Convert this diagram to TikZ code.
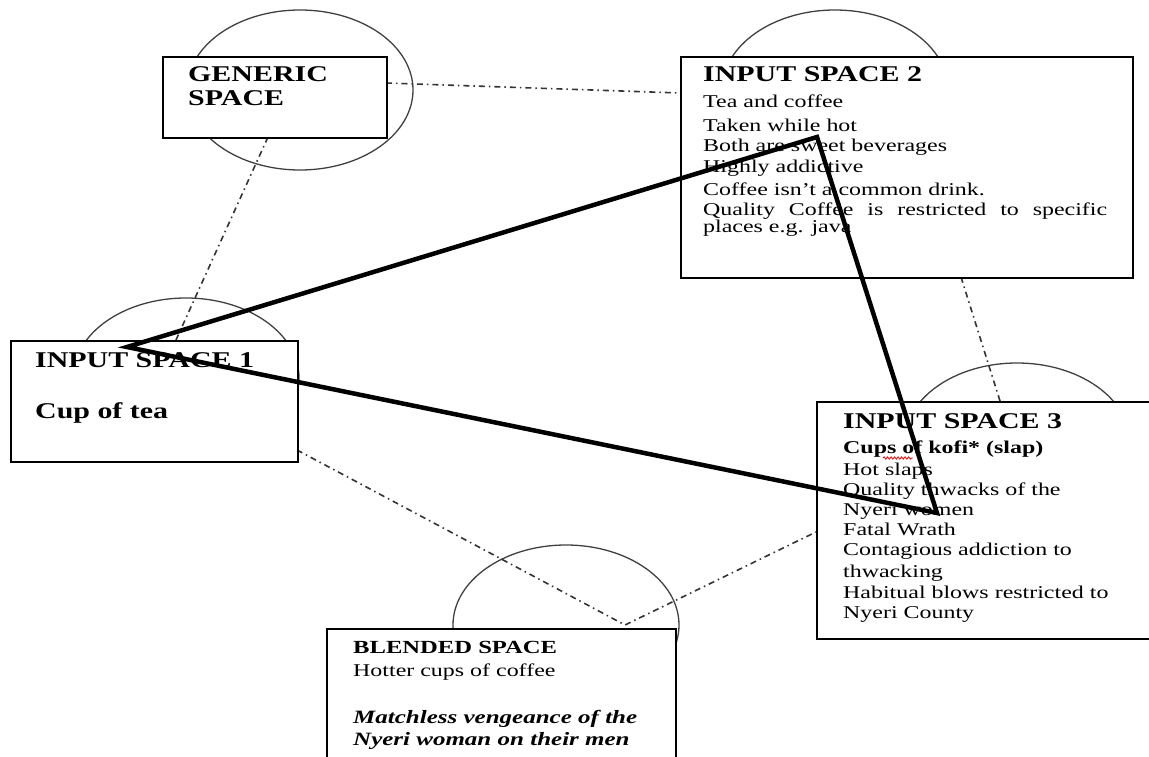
\documentclass[tikz,border=0pt]{standalone}
\usepackage{fontspec}
\setmainfont{Liberation Serif}[FakeStretch=1.33]
\usetikzlibrary{shapes.geometric,decorations.pathmorphing}

\begin{document}
\begin{tikzpicture}[x=1pt,y=-1pt,
  spacebox/.style={draw=black, line width=1.8pt, fill=white, inner sep=0pt,
                   anchor=north west},
  halo/.style={ellipse, draw=black!75, line width=1.3pt, inner sep=0pt,
               minimum width=226pt, minimum height=160pt},
  maplink/.style={draw=black!80, line width=1.6pt,
                  dash pattern=on 6pt off 4pt on 1.5pt off 4pt},
  tie/.style={draw=black, line width=4.5pt, line join=miter},
  head/.style={font=\fontsize{22.5}{26}\selectfont\bfseries, anchor=base west,
               inner sep=0pt},
  subhead/.style={font=\fontsize{18.5}{21}\selectfont\bfseries, anchor=base west,
               inner sep=0pt},
  body/.style={font=\fontsize{18}{21}\selectfont, anchor=base west, inner sep=0pt},
  bodybold/.style={body, font=\fontsize{18}{21}\selectfont\bfseries},
  bodyit/.style={body, font=\fontsize{18.8}{21}\selectfont\bfseries\itshape},
]
\useasboundingbox (0,0) rectangle (1149,757);

% circles behind the mental spaces
\node[halo] (gring)  at (300,90)  {};
\node[halo] (ring2)  at (835,90)  {};
\node[halo] (ring1)  at (186,378) {};
\node[halo] (ring3)  at (1017,443) {};
\node[halo] (bring)  at (566,625) {};

% end points of the dash-dot mappings
\coordinate (g-east)   at (386,83);
\coordinate (i2-west)  at (680,93);
\coordinate (g-south)  at (268,137);
\coordinate (i1-north) at (176,340);
\coordinate (i2-south) at (961,277);
\coordinate (i3-north) at (1000,401);
\coordinate (i1-east)  at (297,450);
\coordinate (i3-west)  at (816,532);
\coordinate (blend)    at (625,625);

\draw[maplink] (g-east) -- (i2-west);
\draw[maplink] (g-south) -- (i1-north);
\draw[maplink] (i2-south) -- (i3-north);
\draw[maplink] (i1-east) -- (blend) -- (i3-west);

% the space boxes
\node[spacebox, minimum width=224pt, minimum height=81pt]  (gbox)  at (162,56)  {};
\node[spacebox, minimum width=452pt, minimum height=221pt] (box2)  at (680,56)  {};
\node[spacebox, minimum width=287pt, minimum height=121pt] (box1)  at (10,340)  {};
\node[spacebox, minimum width=345pt, minimum height=237pt] (box3)  at (816,401) {};
\node[spacebox, minimum width=349pt, minimum height=140pt] (bbox)  at (326,628) {};

% generic space
\node[head] (gt1) at (188,82)  {GENERIC};
\node[head] (gt2) at (188,106) {SPACE};

% input space 2
\node[head] (t2) at (703,82) {INPUT SPACE 2};
\foreach \yy/\txt [count=\k] in {
    108/Tea and coffee,
    132/Taken while hot,
    152/Both are sweet beverages,
    173/Highly addictive,
    195/Coffee isn't a common drink.,
    215/{\makebox[404pt][s]{Quality Coffee is restricted to specific}},
    233/places e.g. java}
  \node[body] (s2-\k) at (703,\yy) {\txt};

% input space 1
\node[head] (t1) at (35,367) {INPUT SPACE 1};
\node[head] (c1) at (35,418) {Cup of tea};

% input space 3
\node[head] (t3) at (843,428) {INPUT SPACE 3};
\node[bodybold] (k3) at (843,453) {Cups of kofi* (slap)};
\foreach \yy/\txt [count=\k] in {
    475/Hot slaps,
    495/Quality thwacks of the,
    515/Nyeri women,
    535/Fatal Wrath,
    555/Contagious addiction to,
    577/thwacking,
    598/Habitual blows restricted to,
    618/Nyeri County}
  \node[body] (s3-\k) at (843,\yy) {\txt};

% blended space
\node[subhead] (tb) at (353,653) {BLENDED SPACE};
\node[body]   (hb) at (353,676) {Hotter cups of coffee};
\node[bodyit] (m1) at (353,723) {Matchless vengeance of the};
\node[bodyit] (m2) at (353,745) {Nyeri woman on their men};

% the heavy triangle joining the three inputs
\coordinate (v1) at (127,347);
\coordinate (v2) at (817,137);
\coordinate (v3) at (937,513);
\draw[tie] (v1) -- (v2) -- (v3) -- cycle;

% spelling mark under the word kofi
\coordinate (sp-a) at (883,458);
\coordinate (sp-b) at (913,458);
\draw[red, line width=0.8pt, decorate,
      decoration={snake, amplitude=1.2pt, segment length=3.5pt}] (sp-a) -- (sp-b);
\end{tikzpicture}
\end{document}
